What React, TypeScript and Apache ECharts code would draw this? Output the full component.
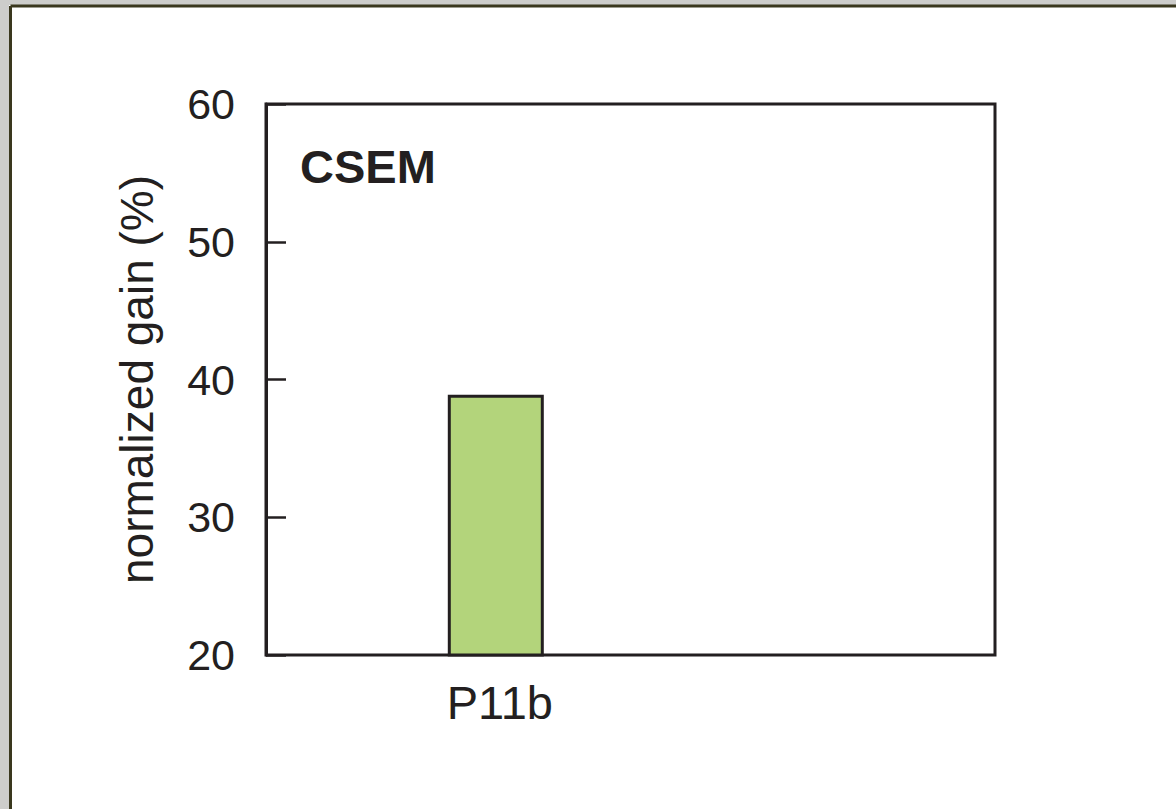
import { useEffect, useRef } from 'react';
import * as echarts from 'echarts';

const categories = ['P11b'];
const normalizedGain = [38.9];
const yTicks = [20, 30, 40, 50, 60];
const panelLabel = 'CSEM';
const yAxisTitle = 'normalized gain (%)';

export default function App() {
  const ref = useRef<HTMLDivElement>(null);
  useEffect(() => {
    const chart = echarts.init(ref.current!, null, { renderer: 'svg' });
    const ink = '#231f20';
    const font = 'Liberation Sans, Arial, Helvetica, sans-serif';
    chart.setOption({
      animation: false,
      backgroundColor: '#ffffff',
      textStyle: { fontFamily: font },
      graphic: [
        { type: 'rect', shape: { x: 0, y: 0, width: 1176, height: 5 }, style: { fill: '#cdcdcb' }, silent: true },
        { type: 'rect', shape: { x: 0, y: 0, width: 9, height: 809 }, style: { fill: '#cdcdcb' }, silent: true },
        { type: 'line', shape: { x1: 10.5, y1: 6, x2: 1176, y2: 6 }, style: { stroke: '#3a381e', lineWidth: 3 }, silent: true },
        { type: 'line', shape: { x1: 10.5, y1: 6, x2: 10.5, y2: 809 }, style: { stroke: '#3a381e', lineWidth: 3 }, silent: true },
        {
          type: 'text',
          x: 300,
          y: 166,
          style: {
            text: panelLabel,
            fontSize: 47,
            fontWeight: 'bold',
            fontFamily: font,
            fill: ink,
            verticalAlign: 'middle',
            align: 'left',
          },
        },
      ],
      grid: [
        { left: 266, top: 104, right: 181, bottom: 154, show: true, borderColor: ink, borderWidth: 3, backgroundColor: 'transparent' },
        { left: 266, top: 104, width: 459.6, bottom: 154 },
      ],
      xAxis: [
        {
          gridIndex: 1,
          type: 'category',
          data: categories,
          axisLine: { show: false },
          axisTick: { show: false },
          axisLabel: { fontSize: 47, color: ink, margin: 24, padding: [0, 0, 0, 8], fontFamily: font },
        },
        { gridIndex: 0, type: 'value', show: false },
      ],
      yAxis: [
        {
          gridIndex: 1,
          type: 'value',
          min: yTicks[0],
          max: yTicks[yTicks.length - 1],
          interval: yTicks[1] - yTicks[0],
          name: yAxisTitle,
          nameLocation: 'middle',
          nameGap: 106,
          nameTextStyle: { fontSize: 46, color: ink, fontFamily: font },
          axisLine: { show: true, lineStyle: { color: ink, width: 3 } },
          axisTick: { show: true, inside: true, length: 20, lineStyle: { color: ink, width: 2.5 } },
          splitLine: { show: false },
          axisLabel: { fontSize: 43, color: ink, margin: 31, padding: [10, 0, 0, 0], fontFamily: font },
        },
        { gridIndex: 0, type: 'value', show: false },
      ],
      series: [
        {
          type: 'bar',
          xAxisIndex: 0,
          yAxisIndex: 0,
          data: normalizedGain,
          barWidth: 96,
          itemStyle: { color: '#b3d47b', borderColor: ink, borderWidth: 3 },
        },
      ],
    });
    return () => chart.dispose();
  }, []);
  return <div ref={ref} style={{ position: 'absolute', left: 0, top: 0, width: 1176, height: 809 }} />;
}
